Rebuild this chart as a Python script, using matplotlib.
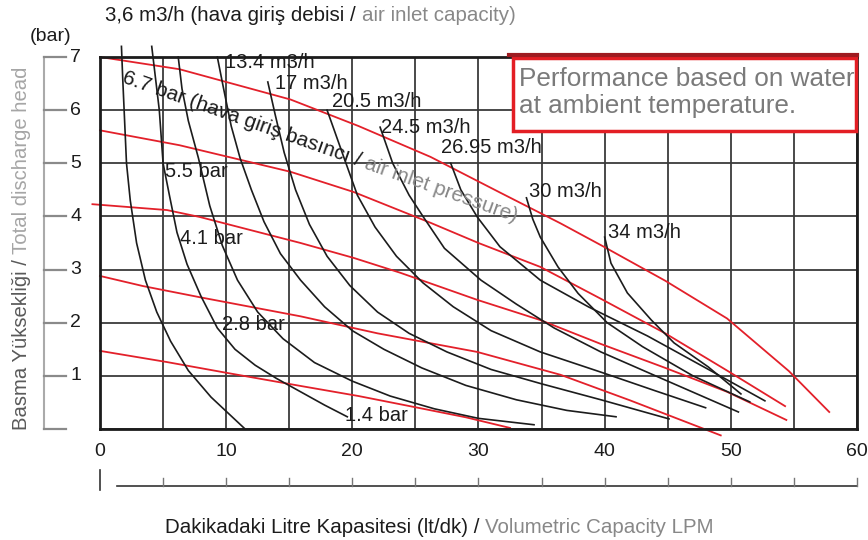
import matplotlib
matplotlib.use('Agg')
import matplotlib.pyplot as plt
from matplotlib.patches import Rectangle
from matplotlib.transforms import IdentityTransform
import numpy as np

plt.rcParams['font.family'] = ['Liberation Sans', 'DejaVu Sans']

RED = '#e3202a'
BLACK = '#1c1c1c'
GREY = '#888888'

# constant air inlet pressure lines (bar)
pressure_names = ['6.7 bar', '5.5 bar', '4.1 bar', '2.8 bar', '1.4 bar']
p67_x = [0, 6.3, 15.1, 20.5, 26.2, 31.7, 36.5, 39.7, 44.8, 49.7, 54.6, 57.8]
p67_y = [7.0, 6.77, 6.2, 5.7, 5.12, 4.45, 3.87, 3.46, 2.79, 2.08, 1.09, 0.32]
p55_x = [0, 6.3, 15.1, 20.1, 26.2, 30.0, 34.9, 39.7, 44.8, 49.7, 54.3]
p55_y = [5.62, 5.34, 4.84, 4.46, 3.88, 3.5, 3.05, 2.45, 1.8, 1.1, 0.43]
p41_x = [-0.6, 5.3, 7.9, 15.9, 20.1, 23.8, 29.9, 34.9, 39.7, 44.8, 49.7, 54.4]
p41_y = [4.23, 4.12, 3.99, 3.50, 3.22, 2.94, 2.43, 2.05, 1.6, 1.15, 0.7, 0.17]
p28_x = [0, 3.4, 7.9, 15.9, 22.0, 29.9, 36.5, 42.0, 49.2]
p28_y = [2.88, 2.69, 2.48, 2.12, 1.8, 1.45, 1.02, 0.54, -0.12]
p14_x = [0, 5.3, 10.2, 15.9, 20.5, 25.2, 29.0, 32.5]
p14_y = [1.47, 1.26, 1.05, 0.81, 0.62, 0.4, 0.22, 0.02]

# constant air consumption lines (m3/h)
q36_x = [1.7, 1.8, 1.95, 2.1, 2.4, 2.9, 3.6, 4.5, 5.6, 7.0, 8.8, 11.5]
q36_y = [7.2, 6.6, 5.8, 5.0, 4.3, 3.5, 2.8, 2.2, 1.65, 1.1, 0.6, 0.0]
qb_x = [4.1, 4.4, 4.7, 5.0, 5.5, 6.1, 6.9, 8.0, 9.3, 10.7, 12.3, 14.0, 15.9, 17.8, 19.6]
qb_y = [7.2, 6.6, 6.0, 5.0, 4.4, 3.7, 3.1, 2.5, 1.9, 1.5, 1.2, 0.95, 0.7, 0.45, 0.23]
qc_x = [6.2, 6.5, 7.0, 7.8, 8.7, 9.7, 10.9, 12.5, 14.5, 17.0, 20.0, 23.0, 26.5, 30.0, 34.4]
qc_y = [7.0, 6.4, 5.8, 5.1, 4.2, 3.45, 2.8, 2.2, 1.7, 1.25, 0.9, 0.62, 0.38, 0.2, 0.08]
q134_x = [9.3, 9.8, 10.4, 11.1, 12.0, 13.0, 14.3, 15.9, 17.8, 20.0, 22.5, 25.5, 29.0, 33.0, 37.0, 40.9]
q134_y = [7.0, 6.4, 5.7, 5.1, 4.5, 3.9, 3.3, 2.8, 2.3, 1.85, 1.5, 1.15, 0.82, 0.55, 0.35, 0.23]
q17_x = [13.3, 13.9, 14.6, 15.5, 16.6, 18.0, 19.8, 22.0, 24.5, 27.5, 31.0, 35.0, 39.7, 45.1]
q17_y = [6.53, 5.9, 5.2, 4.5, 3.85, 3.25, 2.7, 2.2, 1.8, 1.45, 1.12, 0.85, 0.55, 0.19]
q205_x = [18.0, 18.6, 19.3, 20.4, 21.8, 23.5, 25.6, 28.0, 31.0, 34.9, 39.7, 44.0, 48.0]
q205_y = [6.0, 5.6, 5.13, 4.4, 3.8, 3.25, 2.75, 2.3, 1.85, 1.45, 1.07, 0.72, 0.40]
q245_x = [22.2, 23.2, 24.5, 25.6, 27.3, 30.2, 33.0, 36.0, 39.7, 45.0, 50.6]
q245_y = [5.68, 5.0, 4.4, 4.0, 3.4, 2.8, 2.35, 1.9, 1.45, 0.9, 0.32]
q2695_x = [27.8, 28.6, 29.9, 31.7, 34.9, 38.7, 43.4, 48.0, 52.7]
q2695_y = [5.0, 4.5, 3.99, 3.43, 2.80, 2.30, 1.75, 1.15, 0.53]
q30_x = [33.8, 34.3, 34.9, 36.3, 37.9, 40.2, 43.0, 47.0, 51.5]
q30_y = [4.35, 3.95, 3.61, 3.05, 2.55, 2.0, 1.55, 1.0, 0.51]
q34_x = [40.0, 40.5, 41.8, 43.7, 45.5, 48.2, 50.8]
q34_y = [3.61, 3.12, 2.56, 2.05, 1.62, 1.17, 0.66]

flow_labels = ['13.4 m3/h', '17 m3/h', '20.5 m3/h', '24.5 m3/h', '26.95 m3/h', '30 m3/h', '34 m3/h']
flow_label_x = [9.9, 13.9, 18.4, 22.3, 27.06, 33.97, 40.3]
flow_label_y = [6.89, 6.51, 6.17, 5.68, 5.29, 4.46, 3.69]
bar_labels = ['5.5 bar', '4.1 bar', '2.8 bar', '1.4 bar']
bar_label_x = [5.16, 6.35, 9.68, 19.44]
bar_label_y = [4.84, 3.59, 1.96, 0.26]

x_ticks = list(range(0, 61, 5))
x_ticklabels = [str(v) if v % 10 == 0 else '' for v in x_ticks]
y_ticks = list(range(0, 8))
y_ticklabels = ['' if v == 0 else str(v) for v in y_ticks]

fig = plt.figure(figsize=(8.68, 5.4), dpi=100)
ax = fig.add_axes([100 / 868, 1 - 429 / 540, 757 / 868, 372 / 540])
ax.set_xlim(0, 60)
ax.set_ylim(0, 7)

ax.set_xticks(x_ticks)
ax.set_xticklabels(x_ticklabels)
ax.set_yticks(y_ticks)
ax.set_yticklabels([])
ax.tick_params(axis='x', length=0, pad=10, labelsize=14, labelcolor=BLACK)
ax.tick_params(axis='y', length=0)
ax.grid(True, color='#3a3a3a', lw=1.3, zorder=0.5)
ax.set_axisbelow(True)
for s in ax.spines.values():
    s.set_linewidth(2)
    s.set_color(BLACK)

reds = [(p67_x, p67_y), (p55_x, p55_y), (p41_x, p41_y), (p28_x, p28_y), (p14_x, p14_y)]
for xs, ys in reds:
    ax.plot(xs, ys, color=RED, lw=1.3, zorder=2, clip_on=False)

blacks = [(q36_x, q36_y), (qb_x, qb_y), (qc_x, qc_y), (q134_x, q134_y), (q17_x, q17_y),
          (q205_x, q205_y), (q245_x, q245_y), (q2695_x, q2695_y), (q30_x, q30_y), (q34_x, q34_y)]
for xs, ys in blacks:
    ax.plot(xs, ys, color=BLACK, lw=1.2, zorder=2.1, clip_on=False)

for t, x, y in zip(flow_labels, flow_label_x, flow_label_y):
    ax.text(x, y, t, fontsize=14.5, color=BLACK, ha='left', va='center', zorder=3)
for t, x, y in zip(bar_labels, bar_label_x, bar_label_y):
    ax.text(x, y, t, fontsize=14.5, color=BLACK, ha='left', va='center', zorder=3)

# left-hand scale, drawn outside the frame
ax.plot([-4.44, -4.44], [0, 7], color='#aaaaaa', lw=1.5, clip_on=False)
for v, lab in zip(y_ticks, y_ticklabels):
    ax.plot([-4.44, -2.7], [v, v], color='#8a8a8a', lw=1.6, clip_on=False)
    if lab:
        ax.text(-2.35, v, lab, fontsize=14, color=BLACK, ha='left', va='center')

# lower scale line
ax.plot([1.35, 60], [-1.07, -1.07], color='#333333', lw=1.2, clip_on=False)
ax.plot([0, 0], [-0.77, -1.15], color='#333333', lw=1.2, clip_on=False)
for v in x_ticks[1:]:
    ax.plot([v, v], [-1.07, -0.93], color='#777777', lw=1.0, clip_on=False)

# note box
ax.add_patch(Rectangle((32.7, 5.61), 27.2, 1.37, facecolor='white', edgecolor='#e31e24',
                       lw=2.5, zorder=5, clip_on=False))
ax.plot([32.4, 60], [7.03, 7.03], color='#9e1b20', lw=3, zorder=6, clip_on=False)
ax.text(33.2, 6.45, 'Performance based on water', fontsize=18.8, color='#7a7a7a',
        va='baseline', zorder=7)
ax.text(33.2, 5.94, 'at ambient temperature.', fontsize=18.8, color='#7a7a7a',
        va='baseline', zorder=7)

renderer = fig.canvas.get_renderer()


def text_width(s, size):
    a = fig.text(0, 0, s + 'x', fontsize=size, transform=IdentityTransform())
    b = fig.text(0, 0, 'x', fontsize=size, transform=IdentityTransform())
    w = a.get_window_extent(renderer).width - b.get_window_extent(renderer).width
    a.remove()
    b.remove()
    return w


def colored_text(x, y, parts, size, angle=0):
    # x, y in output pixels measured from the top-left corner
    ca, sa = np.cos(np.radians(angle)), np.sin(np.radians(angle))
    px, py = x, fig.bbox.height - y
    for s, c in parts:
        fig.text(px, py, s, fontsize=size, color=c, rotation=angle, rotation_mode='anchor',
                 ha='left', va='baseline', transform=IdentityTransform(), zorder=4)
        w = text_width(s, size)
        px += w * ca
        py += w * sa


colored_text(105, 21, [('3,6 m3/h (hava giriş debisi / ', BLACK), ('air inlet capacity)', GREY)], 14.8)
fig.text(30 / 868, 1 - 41 / 540, '(bar)', fontsize=14, color=BLACK, va='baseline')
colored_text(165, 533, [('Dakikadaki Litre Kapasitesi (lt/dk) / ', BLACK),
                        ('Volumetric Capacity LPM', GREY)], 14.8)
colored_text(27, 430, [('Basma Yüksekliği / ', '#5a5a5a'), ('Total discharge head', '#a5a5a5')],
             14.6, angle=90)
colored_text(121, 82, [('6.7 bar (hava giriş basıncı / ', BLACK), ('air inlet pressure)', GREY)],
             15, angle=-19.5)

fig.savefig('out.png', dpi=100)
